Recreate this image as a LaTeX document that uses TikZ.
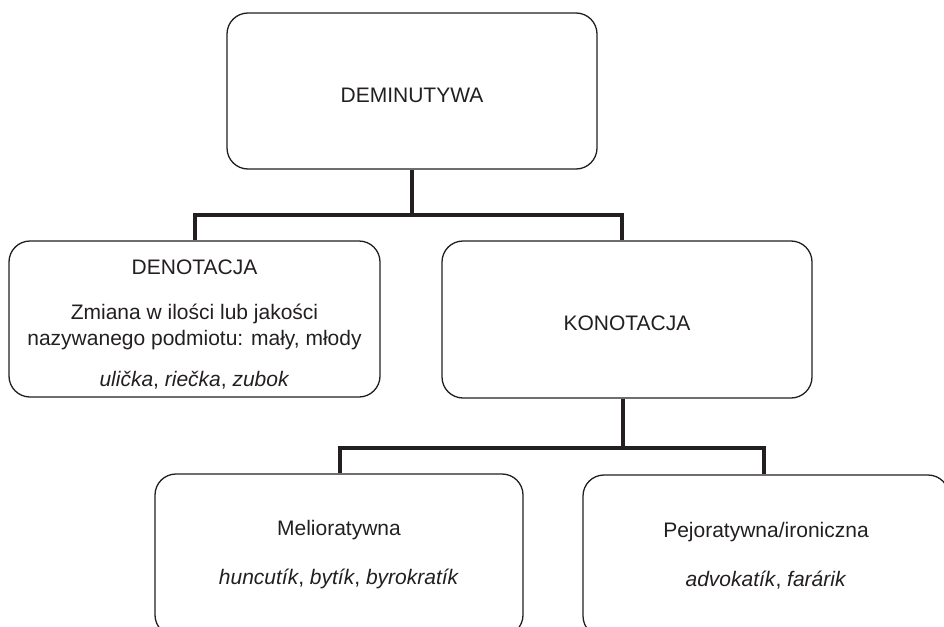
\documentclass[tikz,border=0pt]{standalone}
\usepackage{fontspec}
\setmainfont{Liberation Sans}
\definecolor{ink}{HTML}{231F20}
\begin{document}
\begin{tikzpicture}[x=1pt,y=-1pt,
  box/.style={draw=ink, line width=1.3pt, rounded corners=21pt, inner sep=0pt,
    align=center, text=ink, font=\fontsize{21}{26}\selectfont},
  link/.style={draw=ink, line width=4.5pt}]
\useasboundingbox (0,0) rectangle (944,626);
\node[box, minimum width=370pt, minimum height=156pt] (dem) at (412,91) {\rule{0pt}{23pt}DEMINUTYWA};
\node[box, minimum width=371pt, minimum height=156pt] (deno) at (194.5,319)
  {\rule{0pt}{26pt}DENOTACJA\\[19pt]Zmiana w ilości lub jakości\\nazywanego podmiotu: mały, młody\\[15pt]\textit{ulička}, \textit{riečka}, \textit{zubok}};
\node[box, minimum width=370pt, minimum height=157pt] (kono) at (627,319.5) {\rule{0pt}{22pt}KONOTACJA};
\node[box, minimum width=368pt, minimum height=162pt] (mel) at (339,555)
  {Melioratywna\\[23pt]\textit{huncutík}, \textit{bytík}, \textit{byrokratík}};
\node[box, minimum width=366pt, minimum height=162pt] (pej) at (766,556)
  {Pejoratywna/ironiczna\\[23pt]\textit{advokatík}, \textit{farárik}};
\coordinate (b1) at (412,215);
\path (deno.north) ++(0.5,0) coordinate (dn);
\path (kono.north) ++(-5,0) coordinate (kn);
\draw[link] (dem.south) -- (b1);
\draw[link] (dn) |- (b1) -| (kn);
\path (kono.south) ++(-4,0) coordinate (ks);
\coordinate (b2) at (623,448);
\path (mel.north) ++(1,0) coordinate (mn);
\path (pej.north) ++(-2,0) coordinate (pn);
\draw[link] (ks) -- (b2);
\draw[link] (mn) |- (b2) -| (pn);
\end{tikzpicture}
\end{document}
